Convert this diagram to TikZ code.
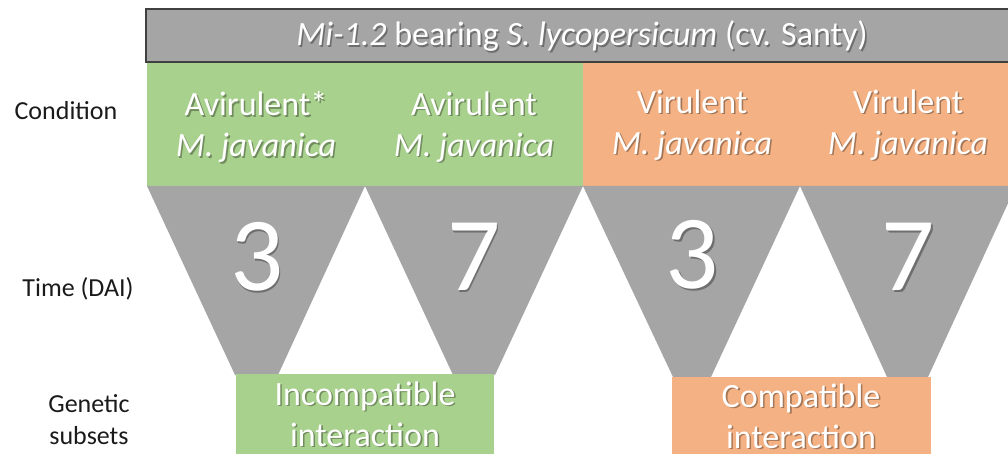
\documentclass[tikz,border=0pt]{standalone}
\usepackage{fontspec}
\setmainfont{Carlito}
\definecolor{barGray}{HTML}{A5A5A5}
\definecolor{barEdge}{HTML}{404040}
\definecolor{avGreen}{HTML}{A9D18E}
\definecolor{viOrange}{HTML}{F4B183}
\definecolor{labelInk}{HTML}{1A1A1A}
\tikzset{
  lbl/.style={text=white, align=center, inner sep=0pt},
  shd/.style={text=black, text opacity=0.33, align=center, inner sep=0pt},
  side/.style={text=labelInk, align=center, inner sep=0pt, font=\fontsize{26}{32}\selectfont},
  funnel/.style={fill=barGray},
}
\newcommand{\bigtxt}{\fontsize{34}{41}\selectfont}
\newcommand{\hugetxt}{\fontsize{105}{110}\selectfont}
% white text with a soft drop shadow: name, position, font, text
\newcommand{\wtext}[4]{%
  \node[shd,font=#3] at ([shift={(1.6pt,-1.6pt)}]#2) {#4};
  \node[lbl,font=#3] (#1) at (#2) {#4};}
\begin{document}
\begin{tikzpicture}[x=1pt,y=-1pt]
\useasboundingbox (0,0) rectangle (1008,454);
\clip (0,0) rectangle (1008,454);

% condition bands
\fill[avGreen] (147,62) rectangle (583,186);
\fill[viOrange] (583,62) rectangle (1010,186);

% time funnels
\fill[funnel] (147,186) -- (365,186) -- (278,375) -- (235,375) -- cycle;
\fill[funnel] (365,186) -- (583,186) -- (495,375) -- (453,375) -- cycle;
\fill[funnel] (583,186) -- (800,186) -- (711,377) -- (673,377) -- cycle;
\fill[funnel] (800,186) -- (1016,186) -- (928,377) -- (887,377) -- cycle;

% genetic subset boxes
\fill[avGreen] (236,374) rectangle (494,456);
\fill[viOrange] (672,377) rectangle (931,456);

% host header bar
\draw[fill=barGray, draw=barEdge, line width=1.6pt] (146,9) rectangle (1020,62);

\wtext{host}{582,36}{\bigtxt}{\textit{Mi-1.2} bearing \textit{S. lycopersicum} (cv. Santy)}

\wtext{c1}{256,127}{\bigtxt}{Avirulent*\\\textit{M. javanica}}
\wtext{c2}{474,127}{\bigtxt}{Avirulent\\\textit{M. javanica}}
\wtext{c3}{692,125}{\bigtxt}{Virulent\\\textit{M. javanica}}
\wtext{c4}{908,125}{\bigtxt}{Virulent\\\textit{M. javanica}}

\wtext{t1}{257,257}{\hugetxt}{3}
\wtext{t2}{474,257}{\hugetxt}{7}
\wtext{t3}{692,255}{\hugetxt}{3}
\wtext{t4}{908,257}{\hugetxt}{7}

\wtext{g1}{365,414}{\bigtxt}{Incompatible\\interaction}
\wtext{g2}{801,416}{\bigtxt}{Compatible\\interaction}

% row labels
\node[side] (lcond) at (66,111) {Condition};
\node[side] (ltime) at (78,289) {Time (DAI)};
\node[side] (lgen) at (89,420) {Genetic\\subsets};
\end{tikzpicture}
\end{document}
